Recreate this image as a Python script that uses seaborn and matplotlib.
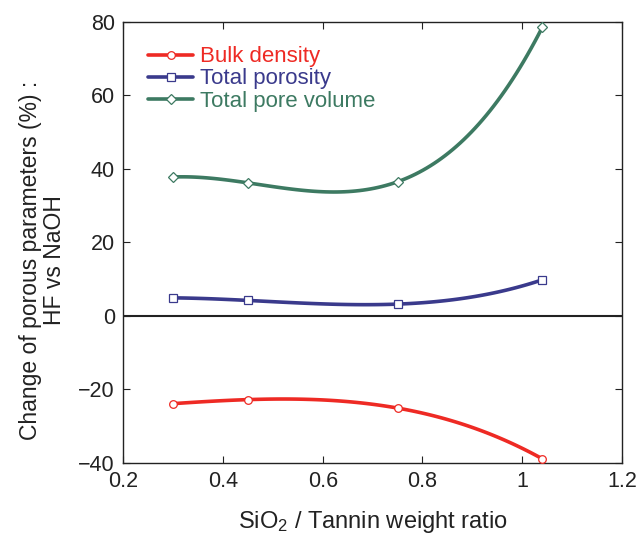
import numpy as np
import pandas as pd
import seaborn as sns
import matplotlib.pyplot as plt
from matplotlib.lines import Line2D

ratio = [0.3, 0.45, 0.75, 1.04]
bulk_density = [-23.9, -22.8, -25.1, -38.9]
total_porosity = [4.9, 4.2, 3.2, 9.8]
total_pore_volume = [37.8, 36.2, 36.5, 78.5]

names = ["Bulk density", "Total porosity", "Total pore volume"]
colors = ["#ee2a24", "#3a3a8c", "#3d7a62"]
markers = ["o", "s", "D"]

sns.set_style("ticks")
plt.rcParams['font.family'] = ['Liberation Sans', 'DejaVu Sans']
plt.rcParams['mathtext.default'] = 'regular'

fig = plt.figure(figsize=(6.38, 5.49), dpi=100)
ax = fig.add_axes([0.193, 0.157, 0.782, 0.803])

ax.axhline(0, color="#222222", lw=1.5, zorder=1)

handles = []
for name, vals, c, m in zip(names, [bulk_density, total_porosity, total_pore_volume], colors, markers):
    d = pd.DataFrame({"x": ratio, "y": vals})
    # smooth curve through the points
    sns.regplot(data=d, x="x", y="y", order=3, ci=None, scatter=False, ax=ax,
                line_kws=dict(color=c, lw=2.6, zorder=2))
    ms = 5.5 if m != "D" else 5
    ax.plot(d["x"], d["y"], ls="none", marker=m, ms=ms, mfc="white", mec=c, mew=0.9, zorder=3)
    handles.append(Line2D([], [], color=c, lw=2.6, marker=m, ms=ms, mfc="white", mec=c, mew=0.9))

leg = ax.legend(handles, names, loc="upper left", frameon=False, fontsize=16,
                handlelength=2.0, handletextpad=0.3, labelspacing=0.05,
                bbox_to_anchor=(0.015, 0.985), borderaxespad=0.4)
for t, c in zip(leg.get_texts(), colors):
    t.set_color(c)

ax.set_xlim(0.2, 1.2)
ax.set_ylim(-40, 80)
ax.set_xticks([0.2, 0.4, 0.6, 0.8, 1.0, 1.2])
ax.set_xticklabels(["0.2", "0.4", "0.6", "0.8", "1", "1.2"])
ax.set_yticks([-40, -20, 0, 20, 40, 60, 80])
ax.tick_params(direction="in", top=True, right=True, length=5, width=0.8,
               labelsize=15.5, colors="#222222", pad=6)
for s in ax.spines.values():
    s.set_color("#222222")
    s.set_linewidth(1.0)

ax.set_xlabel(r"SiO$_2$ / Tannin weight ratio", fontsize=17, color="#222222", labelpad=12)
ax.set_ylabel("Change of porous parameters (%) :\nHF vs NaOH", fontsize=16.5,
              color="#222222", linespacing=1.05)
ax.yaxis.set_label_coords(-0.115, 0.46)

fig.savefig("out.png", dpi=100)
